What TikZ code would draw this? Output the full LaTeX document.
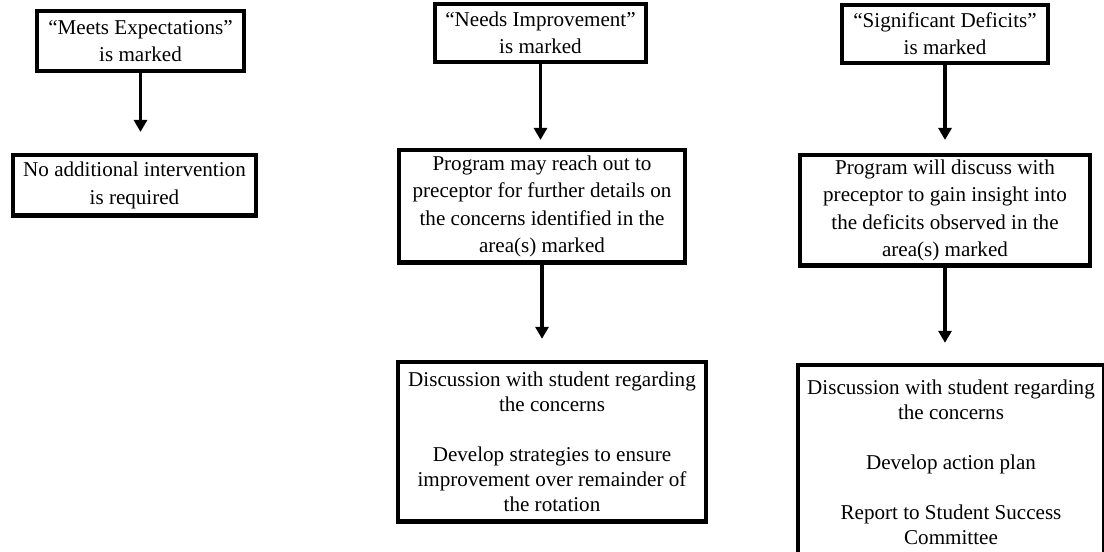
\documentclass[tikz,border=0pt]{standalone}
\usepackage{fontspec}
\setmainfont{Liberation Serif}
\usetikzlibrary{arrows.meta,positioning}

\begin{document}
\begin{tikzpicture}[
    box/.style={draw,line width=2.5pt,fill=white,align=center,inner sep=2pt,font=\fontsize{12}{15.5}\selectfont},
    lowbox/.style={box,font=\fontsize{12}{14.2}\selectfont},
    arrow/.style={-{Triangle[length=2.4mm,width=2.6mm]},line width=2pt},
    node distance=1.6cm
  ]
    \path[use as bounding box,fill=white] (0,0) rectangle (22.08,-11.04);
    % meets expectations
    \node[box,minimum width=4.13cm,minimum height=1.19cm] (meets) at (2.81,-0.82) {“Meets Expectations”\\is marked};
    \node[box,minimum width=4.85cm,minimum height=1.21cm,below=1.6cm of meets,xshift=-0.12cm] (nointerv) {No additional intervention\\is required};
    % needs improvement
    \node[box,minimum width=4.21cm,minimum height=1.15cm] (needs) at (10.81,-0.66) {“Needs Improvement”\\is marked};
    \node[box,minimum width=5.71cm,minimum height=2.25cm,below=1.68cm of needs,xshift=0.03cm] (reach) {Program may reach out to\\preceptor for further details on\\the concerns identified in the\\area(s) marked};
    \node[lowbox,minimum width=6.15cm,minimum height=3.19cm,below=1.9cm of reach,xshift=0.2cm] (strategies) {Discussion with student regarding\\the concerns\\[14.2pt]Develop strategies to ensure\\improvement over remainder of\\the rotation};
    % significant deficits
    \node[box,minimum width=4.11cm,minimum height=1.15cm] (deficits) at (18.9,-0.68) {“Significant Deficits”\\is marked};
    \node[box,minimum width=5.79cm,minimum height=2.21cm,below=1.76cm of deficits] (insight) {Program will discuss with\\preceptor to gain insight into\\the deficits observed in the\\area(s) marked};
    \node[lowbox,minimum width=6.12cm,minimum height=3.9cm,below=1.9cm of insight,xshift=0.12cm] (actplan) {Discussion with student regarding\\the concerns\\[14.2pt]Develop action plan\\[14.2pt]Report to Student Success\\Committee};
    \draw[arrow,shorten >=0.42cm] (meets) -- (meets |- nointerv.north);
    \draw[arrow,shorten >=0.16cm] (needs) -- (needs |- reach.north);
    \draw[arrow,shorten >=0.42cm] (reach) -- (reach |- strategies.north);
    \draw[arrow,shorten >=0.26cm] (deficits) -- (deficits |- insight.north);
    \draw[arrow,shorten >=0.40cm] (insight) -- (insight |- actplan.north);
  \end{tikzpicture}
\end{document}
